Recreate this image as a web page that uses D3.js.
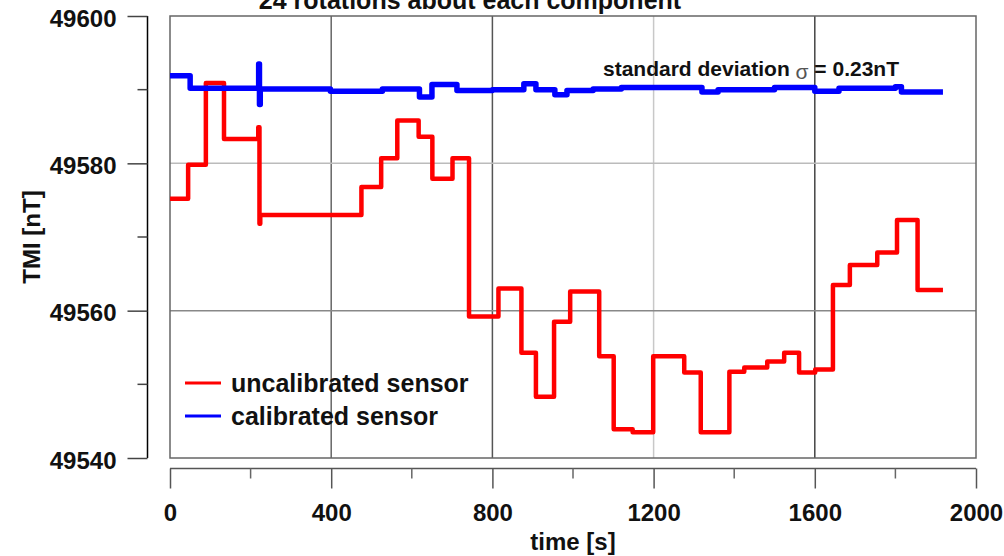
<!DOCTYPE html>
<html><head><meta charset="utf-8">
<script src="https://cdn.jsdelivr.net/npm/d3@7"></script>
<style>
html,body{margin:0;padding:0;background:#fff;}
svg{display:block;font-family:"Liberation Sans",Arial,sans-serif;font-weight:bold;}
</style></head>
<body><svg id="c" width="1004" height="556"></svg>
<script>
// ---- data ----
const title = "24 rotations about each component";
const xTicks = [0, 400, 800, 1200, 1600, 2000];
const xMinorTicks = [200, 600, 1000, 1400, 1800];
const yTicks = [49540, 49560, 49580, 49600];
const yMinorTicks = [49550, 49570, 49590];
const seriesNames = ["uncalibrated sensor", "calibrated sensor"];

// uncalibrated sensor: step levels (start time [s], TMI [nT])
const redTimes  = [0, 45, 89, 134, 219, 222, 224, 475, 524, 564, 617, 651, 701, 742, 815, 872, 908, 953, 993, 1065, 1101, 1148, 1199, 1276, 1317, 1388, 1425, 1482, 1524, 1561, 1601, 1645, 1687, 1755, 1804, 1855, 1918];
const redValues = [49575.2, 49579.8, 49590.9, 49583.3, 49584.9, 49571.8, 49573.0, 49576.8, 49580.7, 49585.8, 49583.6, 49577.9, 49580.7, 49559.2, 49563.0, 49554.3, 49548.3, 49558.5, 49562.6, 49553.8, 49543.9, 49543.5, 49553.8, 49551.6, 49543.5, 49551.7, 49552.3, 49553.1, 49554.3, 49551.6, 49552.0, 49563.5, 49566.2, 49567.9, 49572.3, 49562.8, 49562.8];

// calibrated sensor
const blueTimes  = [0, 50, 220, 222, 224, 398, 527, 619, 650, 712, 800, 878, 908, 955, 985, 1050, 1120, 1320, 1360, 1500, 1600, 1660, 1800, 1815, 1918];
const blueValues = [49591.9, 49590.2, 49593.5, 49588.0, 49590.1, 49589.8, 49590.1, 49589.0, 49590.7, 49589.9, 49590.0, 49590.8, 49590.0, 49589.3, 49589.9, 49590.1, 49590.3, 49589.7, 49590.0, 49590.3, 49589.8, 49590.2, 49590.4, 49589.7, 49589.7];

// ---- chart ----
const svg = d3.select("#c");
const x = d3.scaleLinear().domain([0, 2000]).range([170, 976]);
const y = d3.scaleLinear().domain([49540, 49600]).range([458, 16]);

// grid lines
const vGrid = [{v:400,c:"#666"},{v:800,c:"#555"},{v:1200,c:"#c8c8c8"},{v:1600,c:"#444"}];
svg.selectAll("line.vg").data(vGrid).join("line")
  .attr("x1", d => x(d.v)).attr("x2", d => x(d.v)).attr("y1", y(49600)).attr("y2", y(49540))
  .attr("stroke", d => d.c).attr("stroke-width", 1.5);
const hGrid = [{v:49580,c:"#bbb"},{v:49560,c:"#888"}];
svg.selectAll("line.hg").data(hGrid).join("line")
  .attr("x1", x(0)).attr("x2", x(2000)).attr("y1", d => y(d.v)).attr("y2", d => y(d.v))
  .attr("stroke", d => d.c).attr("stroke-width", 1.5);

// frame
svg.append("rect").attr("x", x(0)).attr("y", y(49600))
  .attr("width", x(2000) - x(0)).attr("height", y(49540) - y(49600))
  .attr("fill", "none").attr("stroke", "#666").attr("stroke-width", 1.5);

// y axis (detached)
const yAxis = d3.axisLeft(y).tickValues(yTicks).tickSize(20).tickPadding(11).tickFormat(d3.format("d"));
const gy = svg.append("g").attr("transform", "translate(147.5,0)").call(yAxis);
gy.select(".domain").attr("stroke", "#000").attr("stroke-width", 1.5).attr("d", `M0,${y(49600)}V${y(49540)}`);
gy.selectAll(".tick line").attr("stroke", "#444").attr("stroke-width", 1.5);
gy.selectAll(".tick text").attr("font-size", 24).attr("font-weight", "bold")
  .attr("font-family", "Liberation Sans, Arial, sans-serif").attr("fill", "#111").attr("dy", "0.42em");
gy.selectAll("line.minor").data(yMinorTicks).join("line").attr("class","minor")
  .attr("x1", -10).attr("x2", 0).attr("y1", d => y(d)).attr("y2", d => y(d))
  .attr("stroke", "#444").attr("stroke-width", 1.5);

// x axis (detached)
const xAxis = d3.axisBottom(x).tickValues(xTicks).tickSize(20).tickPadding(15).tickFormat(d3.format("d"));
const gx = svg.append("g").attr("transform", "translate(0,468.5)").call(xAxis);
gx.select(".domain").attr("stroke", "#555").attr("stroke-width", 1.5).attr("d", `M${x(0)},0H${x(2000)}`);
gx.selectAll(".tick line").attr("stroke", "#555").attr("stroke-width", 1.5);
gx.selectAll(".tick text").attr("font-size", 24).attr("font-weight", "bold")
  .attr("font-family", "Liberation Sans, Arial, sans-serif").attr("fill", "#111");
gx.selectAll("line.minor").data(xMinorTicks).join("line").attr("class","minor")
  .attr("x1", d => x(d)).attr("x2", d => x(d)).attr("y1", 0).attr("y2", 10)
  .attr("stroke", "#666").attr("stroke-width", 1.5);

// axis titles
svg.append("text").attr("x", (x(0) + x(2000)) / 2).attr("y", 550).attr("text-anchor", "middle")
  .attr("font-size", 24).attr("fill", "#111").text("time [s]");
svg.append("text").attr("transform", `translate(40,${(y(49600) + y(49540)) / 2}) rotate(-90)`)
  .attr("text-anchor", "middle").attr("font-size", 24).attr("fill", "#111").text("TMI [nT]");

// title (cut off at top, as in the reference)
svg.append("text").attr("x", 470).attr("y", 9).attr("text-anchor", "middle")
  .attr("font-size", 25).attr("fill", "#111").text(title);

// lines
const line = d3.line().x(d => x(d[0])).y(d => y(d[1])).curve(d3.curveStepAfter);
const redData = redTimes.map((t, i) => [t, redValues[i]]);
const blueData = blueTimes.map((t, i) => [t, blueValues[i]]);
svg.append("path").datum(redData).attr("d", line).attr("fill", "none")
  .attr("stroke", "#ff0000").attr("stroke-width", 4.5).attr("stroke-linejoin", "round");
svg.append("path").datum(blueData).attr("d", line).attr("fill", "none")
  .attr("stroke", "#0000ff").attr("stroke-width", 5.5).attr("stroke-linejoin", "round");

// annotation
const ann = svg.append("text").attr("x", 603).attr("y", 76).attr("font-size", 21).attr("fill", "#111");
ann.append("tspan").text("standard deviation ");
ann.append("tspan").attr("font-weight", "normal").attr("fill", "#555").attr("dy", 3).attr("font-size", 21).text("σ");
ann.append("tspan").attr("dy", -3).text(" = 0.23nT");

// legend
const legend = [{name: seriesNames[0], color: "#ff0000", y: 383, ty: 392},
                {name: seriesNames[1], color: "#0000ff", y: 416, ty: 425}];
const lg = svg.selectAll("g.leg").data(legend).join("g");
lg.append("line").attr("x1", 185).attr("x2", 221).attr("y1", d => d.y).attr("y2", d => d.y)
  .attr("stroke", d => d.color).attr("stroke-width", 3);
lg.append("text").attr("x", 231).attr("y", d => d.ty).attr("font-size", 25).attr("fill", "#111").text(d => d.name);
</script></body></html>
